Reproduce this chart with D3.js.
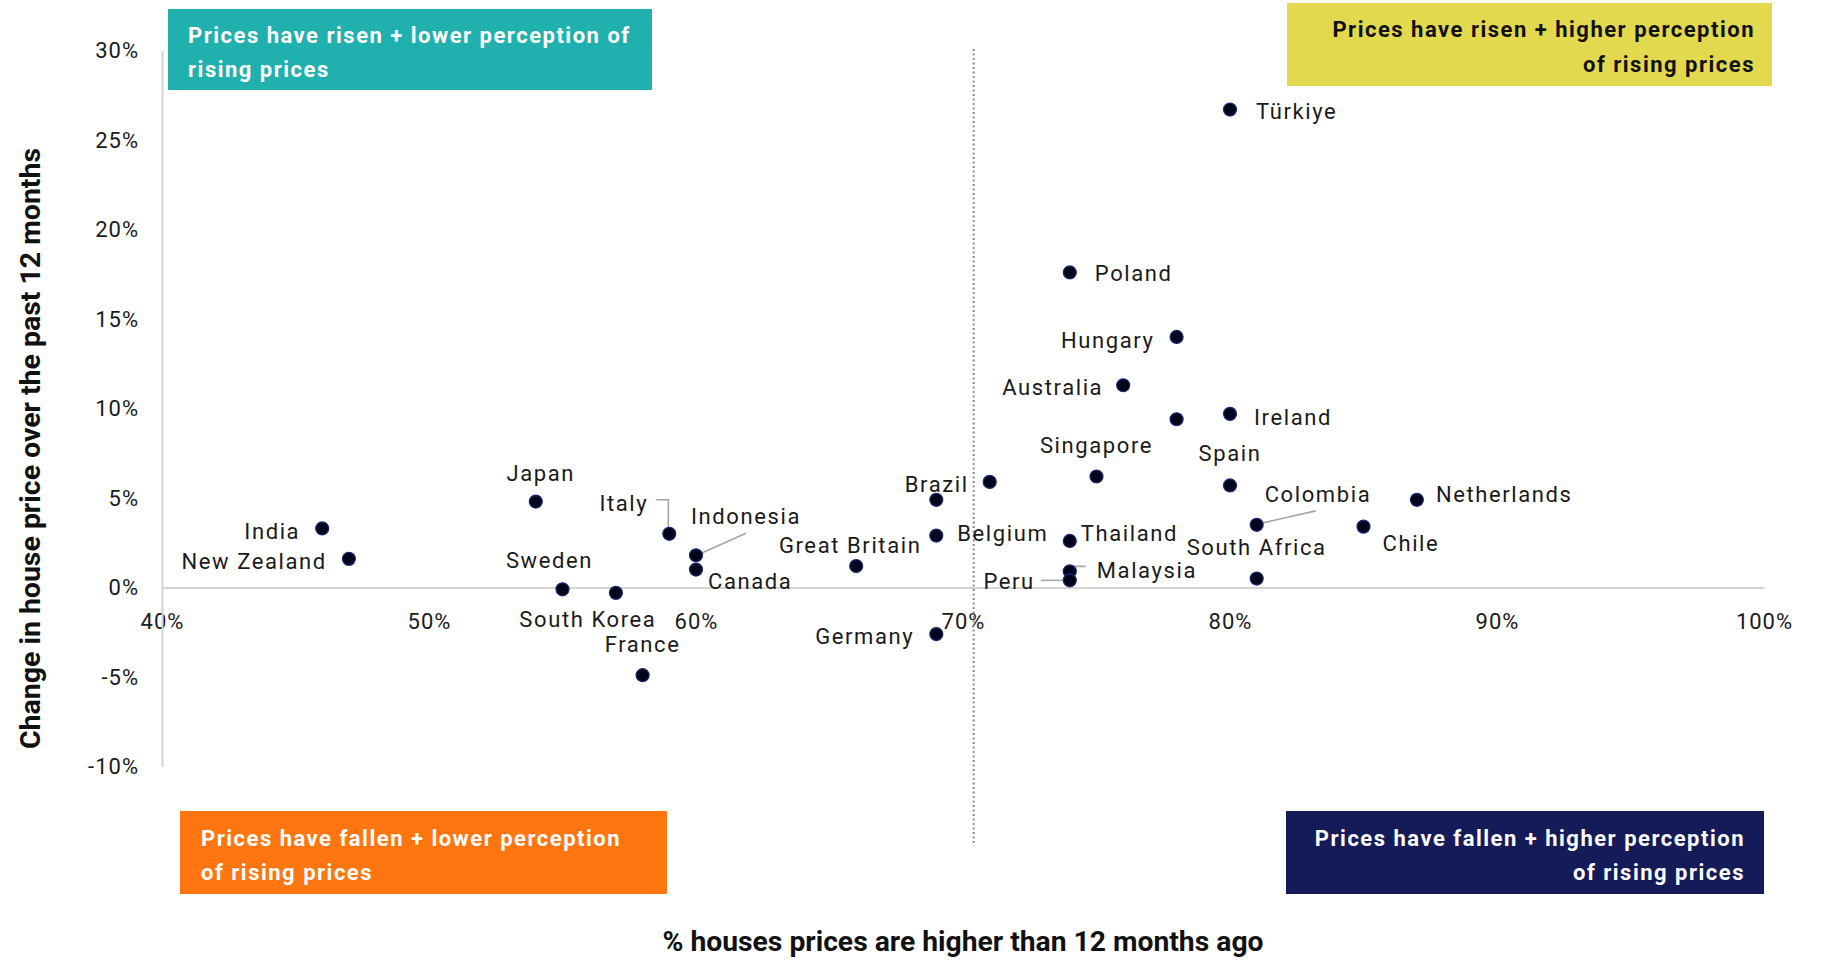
<!DOCTYPE html>
<html>
<head>
<meta charset="utf-8">
<script src="https://cdn.jsdelivr.net/npm/d3@7/dist/d3.min.js"></script>
<style>
  html, body { margin: 0; padding: 0; background: #fff; }
  svg { display: block; font-family: Roboto, "Liberation Sans", sans-serif; }
</style>
</head>
<body>
<svg id="chart" width="1823" height="960"></svg>
<script>
// ---------- DATA ----------
const countries = ["India","New Zealand","Japan","Sweden","South Korea","France","Italy","Indonesia","Canada",
  "Great Britain","","Belgium","Germany","Brazil","Poland","Thailand","Malaysia","Peru","Singapore",
  "Australia","Hungary","","Türkiye","Ireland","Spain","Colombia","South Africa","Chile","Netherlands"];
// % saying house prices are higher than 12 months ago
const pctHigher = [46,47,54,55,57,58,59,60,60,66,69,69,69,71,74,74,74,74,75,76,78,78,80,80,80,81,81,85,87];
// Change in house price over the past 12 months (%)
const priceChange = [3.3,1.6,4.8,-0.1,-0.3,-4.9,3.0,1.8,1.0,1.2,4.9,2.9,-2.6,5.9,17.6,2.6,0.9,0.4,6.2,
  11.3,14.0,9.4,26.7,9.7,5.7,3.5,0.5,3.4,4.9];
const xTicks = [0.4,0.5,0.6,0.7,0.8,0.9,1.0];
const xTickLabels = ["40%","50%","60%","70%","80%","90%","100%"];
const yTicks = [-0.10,-0.05,0,0.05,0.10,0.15,0.20,0.25,0.30];
const yTickLabels = ["-10%","-5%","0%","5%","10%","15%","20%","25%","30%"];
const dividerX = 0.704;
const xTitle = "% houses prices are higher than 12 months ago";
const yTitle = "Change in house price over the past 12 months";
const quadrantTexts = [
  ["Prices have risen + lower perception of", "rising prices"],
  ["Prices have risen + higher perception", "of rising prices"],
  ["Prices have fallen + lower perception", "of rising prices"],
  ["Prices have fallen + higher perception", "of rising prices"]
];

// ---------- LAYOUT (label placement relative to each point) ----------
const labelLayout = {
  "India": {a:"end", dx:-22, dy:3},
  "New Zealand": {a:"end", dx:-22, dy:2},
  "Japan": {a:"middle", dx:5, dy:-29},
  "Sweden": {a:"middle", dx:-13, dy:-29},
  "South Korea": {a:"middle", dx:-28, dy:26},
  "France": {a:"middle", dx:0, dy:-31},
  "Italy": {a:"end", dx:-21, dy:-31, lead:[[-13,-34],[-1,-34],[-1,-6]]},
  "Indonesia": {a:"start", dx:-5, dy:-39, lead:[[50,-22],[3,-1]]},
  "Canada": {a:"start", dx:12, dy:11},
  "Great Britain": {a:"middle", dx:-6, dy:-21},
  "Belgium": {a:"start", dx:21, dy:-3},
  "Germany": {a:"end", dx:-22, dy:2},
  "Brazil": {a:"end", dx:-21, dy:2},
  "Poland": {a:"start", dx:25, dy:1},
  "Thailand": {a:"start", dx:11, dy:-8},
  "Malaysia": {a:"start", dx:27, dy:-1, lead:[[16,-5],[5,-5],[-1,2]]},
  "Peru": {a:"end", dx:-35, dy:1, lead:[[-29,0],[-2,0]]},
  "Singapore": {a:"middle", dx:0, dy:-31},
  "Australia": {a:"end", dx:-20, dy:2},
  "Hungary": {a:"end", dx:-22, dy:3},
  "Türkiye": {a:"start", dx:26, dy:2},
  "Ireland": {a:"start", dx:24, dy:3},
  "Spain": {a:"middle", dx:0, dy:-32},
  "Colombia": {a:"start", dx:8, dy:-31, lead:[[59,-14],[2,-1]]},
  "South Africa": {a:"middle", dx:0, dy:-31},
  "Chile": {a:"start", dx:19, dy:16},
  "Netherlands": {a:"start", dx:19, dy:-6}
};
const boxes = [
  {x:168, y:9, w:484, h:81, fill:"#20B0AD", color:"#fff", anchor:"start", tx:188, ty:[43,77]},
  {x:1287, y:3, w:485, h:83, fill:"#E2D94E", color:"#111", anchor:"end", tx:1755, ty:[37,72]},
  {x:180, y:811, w:487, h:83, fill:"#FF7610", color:"#fff", anchor:"start", tx:201, ty:[846,880]},
  {x:1286, y:811, w:478, h:83, fill:"#141B58", color:"#fff", anchor:"end", tx:1745, ty:[846,880]}
];

// ---------- CHART ----------
const svg = d3.select("#chart");
const x = d3.scaleLinear().domain([0.4, 1.0]).range([162, 1764]);
const y = d3.scaleLinear().domain([-0.10, 0.30]).range([766.5, 50.5]);

const data = countries.map((c, i) => ({name: c, px: pctHigher[i] / 100, py: priceChange[i] / 100}));

// quadrant boxes
boxes.forEach((b, i) => {
  svg.append("rect").attr("x", b.x).attr("y", b.y).attr("width", b.w).attr("height", b.h).attr("fill", b.fill);
  quadrantTexts[i].forEach((t, j) => {
    svg.append("text").attr("x", b.tx).attr("y", b.ty[j]).attr("text-anchor", b.anchor)
      .attr("fill", b.color).attr("font-size", 22).attr("font-weight", 700)
      .attr("letter-spacing", "1.5px").text(t);
  });
});

// axes
const xAxis = svg.append("g").attr("transform", `translate(0,${y(0)})`)
  .call(d3.axisBottom(x).tickValues(xTicks).tickFormat((d, i) => xTickLabels[i]).tickSize(0).tickSizeOuter(0).tickPadding(26));
const yAxis = svg.append("g").attr("transform", `translate(${x(0.4)},0)`)
  .call(d3.axisLeft(y).tickValues(yTicks).tickFormat((d, i) => yTickLabels[i]).tickSize(0).tickSizeOuter(0).tickPadding(23));
[xAxis, yAxis].forEach(g => {
  g.select(".domain").attr("stroke", "#d4d4d4").attr("stroke-width", 2);
  g.selectAll("text").attr("font-size", 22).attr("fill", "#1a1a1a").attr("letter-spacing", "1px")
    .attr("font-family", "Roboto, 'Liberation Sans', sans-serif");
});

// divider
svg.append("line").attr("x1", x(dividerX)).attr("x2", x(dividerX)).attr("y1", 49).attr("y2", 846)
  .attr("stroke", "#8c8c8c").attr("stroke-width", 2).attr("stroke-dasharray", "2,2.5");

// leader lines
const line = d3.line();
data.forEach(d => {
  const L = labelLayout[d.name];
  if (L && L.lead) {
    const cx = x(d.px), cy = y(d.py);
    svg.append("path").attr("d", line(L.lead.map(p => [cx + p[0], cy + p[1]])))
      .attr("fill", "none").attr("stroke", "#a6a6a6").attr("stroke-width", 1.6);
  }
});

// points
svg.append("g").selectAll("circle").data(data).join("circle")
  .attr("cx", d => x(d.px)).attr("cy", d => y(d.py)).attr("r", 6.5)
  .attr("fill", "#02041c").attr("stroke", "#1c2670").attr("stroke-width", 1.2);

// labels
svg.append("g").selectAll("text").data(data.filter(d => d.name && labelLayout[d.name])).join("text")
  .attr("x", d => x(d.px) + labelLayout[d.name].dx)
  .attr("y", d => y(d.py) + labelLayout[d.name].dy)
  .attr("dy", "0.36em")
  .attr("text-anchor", d => labelLayout[d.name].a)
  .attr("font-size", 22).attr("letter-spacing", "1.6px").attr("fill", "#1a1a1a")
  .text(d => d.name);

// axis titles
svg.append("text").attr("x", 963).attr("y", 951).attr("text-anchor", "middle")
  .attr("font-size", 27).attr("font-weight", 700).attr("fill", "#111")
  .attr("textLength", 601).attr("lengthAdjust", "spacingAndGlyphs").text(xTitle);
svg.append("text").attr("transform", "translate(39.5,448.5) rotate(-90)").attr("text-anchor", "middle")
  .attr("font-size", 27).attr("font-weight", 700).attr("fill", "#111")
  .attr("textLength", 601).attr("lengthAdjust", "spacingAndGlyphs").text(yTitle);
</script>
</body>
</html>
